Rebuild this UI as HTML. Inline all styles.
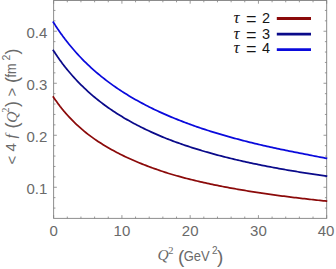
<!DOCTYPE html>
<html><head><meta charset="utf-8"><title>plot</title>
<style>html,body{margin:0;padding:0;background:#fff;}svg{display:block;font-family:"Liberation Sans",sans-serif;}</style>
</head><body>
<svg width="336" height="269" viewBox="0 0 336 269">
<rect width="336" height="269" fill="#fff"/>
<rect x="53.65" y="0.5" width="273.05" height="217.85" fill="none" stroke="#808080" stroke-width="0.9"/>
<path d="M53.65,218.35v-3.2M53.65,0.5v3.2M67.30,218.35v-1.8M67.30,0.5v1.8M80.95,218.35v-1.8M80.95,0.5v1.8M94.61,218.35v-1.8M94.61,0.5v1.8M108.26,218.35v-1.8M108.26,0.5v1.8M121.91,218.35v-3.2M121.91,0.5v3.2M135.56,218.35v-1.8M135.56,0.5v1.8M149.21,218.35v-1.8M149.21,0.5v1.8M162.87,218.35v-1.8M162.87,0.5v1.8M176.52,218.35v-1.8M176.52,0.5v1.8M190.17,218.35v-3.2M190.17,0.5v3.2M203.82,218.35v-1.8M203.82,0.5v1.8M217.47,218.35v-1.8M217.47,0.5v1.8M231.13,218.35v-1.8M231.13,0.5v1.8M244.78,218.35v-1.8M244.78,0.5v1.8M258.43,218.35v-3.2M258.43,0.5v3.2M272.08,218.35v-1.8M272.08,0.5v1.8M285.73,218.35v-1.8M285.73,0.5v1.8M299.39,218.35v-1.8M299.39,0.5v1.8M313.04,218.35v-1.8M313.04,0.5v1.8M326.69,218.35v-3.2M326.69,0.5v3.2M53.65,208.07h1.8M326.7,208.07h-1.8M53.65,197.67h1.8M326.7,197.67h-1.8M53.65,187.27h3.2M326.7,187.27h-3.2M53.65,176.87h1.8M326.7,176.87h-1.8M53.65,166.47h1.8M326.7,166.47h-1.8M53.65,156.06h1.8M326.7,156.06h-1.8M53.65,145.66h1.8M326.7,145.66h-1.8M53.65,135.26h3.2M326.7,135.26h-3.2M53.65,124.86h1.8M326.7,124.86h-1.8M53.65,114.46h1.8M326.7,114.46h-1.8M53.65,104.05h1.8M326.7,104.05h-1.8M53.65,93.65h1.8M326.7,93.65h-1.8M53.65,83.25h3.2M326.7,83.25h-3.2M53.65,72.85h1.8M326.7,72.85h-1.8M53.65,62.45h1.8M326.7,62.45h-1.8M53.65,52.04h1.8M326.7,52.04h-1.8M53.65,41.64h1.8M326.7,41.64h-1.8M53.65,31.24h3.2M326.7,31.24h-3.2M53.65,20.84h1.8M326.7,20.84h-1.8M53.65,10.44h1.8M326.7,10.44h-1.8" stroke="#808080" stroke-width="0.8" fill="none"/>
<g fill="none" stroke-width="1.75" stroke-linecap="butt" stroke-linejoin="round">
<path d="M52.90,96.28 L53.65,97.40 L53.99,97.91 L54.33,98.41 L54.67,98.90 L55.02,99.40 L55.36,99.89 L55.70,100.38 L56.04,100.86 L56.38,101.34 L56.72,101.82 L57.06,102.29 L57.40,102.76 L57.75,103.23 L58.09,103.69 L58.43,104.15 L58.77,104.61 L59.11,105.07 L59.45,105.52 L59.79,105.97 L60.13,106.42 L60.48,106.86 L60.82,107.30 L61.16,107.74 L61.50,108.17 L61.84,108.60 L62.18,109.03 L62.52,109.45 L62.87,109.87 L63.21,110.29 L63.55,110.70 L63.89,111.10 L64.23,111.50 L64.57,111.90 L64.91,112.30 L65.25,112.70 L65.60,113.09 L65.94,113.48 L66.28,113.86 L66.62,114.25 L66.96,114.63 L67.30,115.01 L69.01,116.87 L70.72,118.68 L72.42,120.43 L74.13,122.13 L75.83,123.78 L77.54,125.39 L79.25,126.94 L80.95,128.46 L82.66,129.93 L84.37,131.36 L86.07,132.76 L87.78,134.11 L89.49,135.41 L91.19,136.67 L92.90,137.90 L94.61,139.10 L96.31,140.26 L98.02,141.40 L99.73,142.52 L101.43,143.61 L103.14,144.67 L104.84,145.71 L106.55,146.72 L108.26,147.72 L109.96,148.69 L111.67,149.64 L113.38,150.58 L115.08,151.51 L116.79,152.41 L118.50,153.30 L120.20,154.17 L121.91,155.03 L123.62,155.86 L125.32,156.68 L127.03,157.48 L128.74,158.27 L130.44,159.04 L132.15,159.79 L133.86,160.54 L135.56,161.26 L137.27,161.98 L138.97,162.69 L140.68,163.38 L142.39,164.07 L144.09,164.75 L145.80,165.42 L147.51,166.07 L149.21,166.72 L150.92,167.35 L152.63,167.98 L154.33,168.59 L156.04,169.19 L157.75,169.79 L159.45,170.38 L161.16,170.97 L162.87,171.54 L164.57,172.11 L166.28,172.67 L167.99,173.21 L169.69,173.74 L171.40,174.25 L173.10,174.75 L174.81,175.24 L176.52,175.73 L178.22,176.20 L179.93,176.67 L181.64,177.13 L183.34,177.59 L185.05,178.04 L186.76,178.48 L188.46,178.92 L190.17,179.35 L191.88,179.77 L193.58,180.19 L195.29,180.60 L197.00,181.01 L198.70,181.41 L200.41,181.80 L202.12,182.19 L203.82,182.58 L205.53,182.96 L207.23,183.33 L208.94,183.70 L210.65,184.06 L212.35,184.42 L214.06,184.78 L215.77,185.13 L217.47,185.48 L219.18,185.82 L220.89,186.16 L222.59,186.49 L224.30,186.82 L226.01,187.14 L227.71,187.46 L229.42,187.78 L231.13,188.09 L232.83,188.40 L234.54,188.71 L236.25,189.01 L237.95,189.31 L239.66,189.61 L241.37,189.90 L243.07,190.19 L244.78,190.47 L246.48,190.75 L248.19,191.03 L249.90,191.31 L251.60,191.58 L253.31,191.85 L255.02,192.11 L256.72,192.38 L258.43,192.64 L260.14,192.90 L261.84,193.15 L263.55,193.40 L265.26,193.65 L266.96,193.90 L268.67,194.14 L270.38,194.38 L272.08,194.62 L273.79,194.86 L275.50,195.09 L277.20,195.33 L278.91,195.55 L280.61,195.78 L282.32,196.01 L284.03,196.23 L285.73,196.45 L287.44,196.67 L289.15,196.88 L290.85,197.10 L292.56,197.31 L294.27,197.52 L295.97,197.72 L297.68,197.93 L299.39,198.13 L301.09,198.34 L302.80,198.53 L304.51,198.73 L306.21,198.93 L307.92,199.12 L309.62,199.31 L311.33,199.50 L313.04,199.69 L314.74,199.88 L316.45,200.07 L318.16,200.25 L319.86,200.43 L321.57,200.61 L323.28,200.79 L324.98,200.97 L326.69,201.14 L327.24,201.20" stroke="#8b0a0a"/>
<path d="M52.90,49.75 L53.65,50.92 L53.99,51.44 L54.33,51.96 L54.67,52.48 L55.02,53.00 L55.36,53.51 L55.70,54.02 L56.04,54.53 L56.38,55.03 L56.72,55.54 L57.06,56.03 L57.40,56.53 L57.75,57.02 L58.09,57.51 L58.43,58.00 L58.77,58.49 L59.11,58.97 L59.45,59.46 L59.79,59.94 L60.13,60.41 L60.48,60.89 L60.82,61.36 L61.16,61.83 L61.50,62.30 L61.84,62.76 L62.18,63.22 L62.52,63.68 L62.87,64.13 L63.21,64.58 L63.55,65.03 L63.89,65.47 L64.23,65.91 L64.57,66.34 L64.91,66.78 L65.25,67.21 L65.60,67.64 L65.94,68.07 L66.28,68.49 L66.62,68.91 L66.96,69.33 L67.30,69.75 L69.01,71.80 L70.72,73.80 L72.42,75.75 L74.13,77.65 L75.83,79.49 L77.54,81.30 L79.25,83.06 L80.95,84.78 L82.66,86.46 L84.37,88.11 L86.07,89.71 L87.78,91.28 L89.49,92.82 L91.19,94.32 L92.90,95.79 L94.61,97.23 L96.31,98.64 L98.02,100.01 L99.73,101.36 L101.43,102.68 L103.14,103.98 L104.84,105.24 L106.55,106.48 L108.26,107.70 L109.96,108.89 L111.67,110.06 L113.38,111.20 L115.08,112.32 L116.79,113.43 L118.50,114.51 L120.20,115.57 L121.91,116.61 L123.62,117.63 L125.32,118.63 L127.03,119.62 L128.74,120.59 L130.44,121.54 L132.15,122.48 L133.86,123.40 L135.56,124.30 L137.27,125.19 L138.97,126.07 L140.68,126.93 L142.39,127.78 L144.09,128.62 L145.80,129.45 L147.51,130.26 L149.21,131.07 L150.92,131.86 L152.63,132.64 L154.33,133.41 L156.04,134.16 L157.75,134.91 L159.45,135.64 L161.16,136.36 L162.87,137.07 L164.57,137.77 L166.28,138.45 L167.99,139.13 L169.69,139.79 L171.40,140.43 L173.10,141.07 L174.81,141.70 L176.52,142.33 L178.22,142.94 L179.93,143.54 L181.64,144.14 L183.34,144.73 L185.05,145.31 L186.76,145.88 L188.46,146.45 L190.17,147.01 L191.88,147.56 L193.58,148.10 L195.29,148.64 L197.00,149.17 L198.70,149.69 L200.41,150.21 L202.12,150.72 L203.82,151.22 L205.53,151.72 L207.23,152.21 L208.94,152.69 L210.65,153.17 L212.35,153.65 L214.06,154.11 L215.77,154.58 L217.47,155.03 L219.18,155.49 L220.89,155.93 L222.59,156.37 L224.30,156.81 L226.01,157.24 L227.71,157.67 L229.42,158.09 L231.13,158.50 L232.83,158.92 L234.54,159.32 L236.25,159.73 L237.95,160.12 L239.66,160.52 L241.37,160.91 L243.07,161.29 L244.78,161.67 L246.48,162.05 L248.19,162.42 L249.90,162.79 L251.60,163.16 L253.31,163.52 L255.02,163.88 L256.72,164.23 L258.43,164.58 L260.14,164.93 L261.84,165.27 L263.55,165.61 L265.26,165.95 L266.96,166.28 L268.67,166.61 L270.38,166.94 L272.08,167.26 L273.79,167.58 L275.50,167.90 L277.20,168.21 L278.91,168.53 L280.61,168.83 L282.32,169.14 L284.03,169.44 L285.73,169.74 L287.44,170.04 L289.15,170.33 L290.85,170.62 L292.56,170.91 L294.27,171.19 L295.97,171.48 L297.68,171.76 L299.39,172.04 L301.09,172.31 L302.80,172.58 L304.51,172.86 L306.21,173.12 L307.92,173.39 L309.62,173.65 L311.33,173.91 L313.04,174.17 L314.74,174.43 L316.45,174.68 L318.16,174.93 L319.86,175.18 L321.57,175.43 L323.28,175.68 L324.98,175.92 L326.69,176.16 L327.24,176.24" stroke="#0a0a8a"/>
<path d="M52.90,21.54 L53.65,22.73 L53.99,23.27 L54.33,23.81 L54.67,24.34 L55.02,24.87 L55.36,25.39 L55.70,25.92 L56.04,26.44 L56.38,26.95 L56.72,27.47 L57.06,27.98 L57.40,28.49 L57.75,28.99 L58.09,29.49 L58.43,29.99 L58.77,30.49 L59.11,30.99 L59.45,31.48 L59.79,31.97 L60.13,32.45 L60.48,32.94 L60.82,33.42 L61.16,33.90 L61.50,34.38 L61.84,34.85 L62.18,35.32 L62.52,35.79 L62.87,36.25 L63.21,36.72 L63.55,37.18 L63.89,37.63 L64.23,38.09 L64.57,38.54 L64.91,38.99 L65.25,39.44 L65.60,39.88 L65.94,40.32 L66.28,40.76 L66.62,41.20 L66.96,41.64 L67.30,42.07 L69.01,44.20 L70.72,46.28 L72.42,48.31 L74.13,50.29 L75.83,52.23 L77.54,54.12 L79.25,55.97 L80.95,57.77 L82.66,59.54 L84.37,61.26 L86.07,62.95 L87.78,64.60 L89.49,66.21 L91.19,67.79 L92.90,69.33 L94.61,70.84 L96.31,72.32 L98.02,73.77 L99.73,75.19 L101.43,76.58 L103.14,77.94 L104.84,79.28 L106.55,80.59 L108.26,81.88 L109.96,83.14 L111.67,84.38 L113.38,85.60 L115.08,86.79 L116.79,87.97 L118.50,89.12 L120.20,90.25 L121.91,91.37 L123.62,92.46 L125.32,93.54 L127.03,94.60 L128.74,95.64 L130.44,96.66 L132.15,97.67 L133.86,98.66 L135.56,99.64 L137.27,100.60 L138.97,101.54 L140.68,102.47 L142.39,103.39 L144.09,104.29 L145.80,105.18 L147.51,106.06 L149.21,106.92 L150.92,107.77 L152.63,108.61 L154.33,109.43 L156.04,110.24 L157.75,111.05 L159.45,111.84 L161.16,112.62 L162.87,113.39 L164.57,114.14 L166.28,114.89 L167.99,115.63 L169.69,116.36 L171.40,117.08 L173.10,117.78 L174.81,118.48 L176.52,119.17 L178.22,119.86 L179.93,120.53 L181.64,121.19 L183.34,121.85 L185.05,122.50 L186.76,123.14 L188.46,123.77 L190.17,124.39 L191.88,125.01 L193.58,125.62 L195.29,126.22 L197.00,126.81 L198.70,127.40 L200.41,127.98 L202.12,128.55 L203.82,129.12 L205.53,129.68 L207.23,130.23 L208.94,130.78 L210.65,131.32 L212.35,131.86 L214.06,132.39 L215.77,132.91 L217.47,133.43 L219.18,133.94 L220.89,134.45 L222.59,134.95 L224.30,135.44 L226.01,135.93 L227.71,136.42 L229.42,136.90 L231.13,137.37 L232.83,137.84 L234.54,138.31 L236.25,138.77 L237.95,139.22 L239.66,139.67 L241.37,140.12 L243.07,140.56 L244.78,141.00 L246.48,141.43 L248.19,141.86 L249.90,142.29 L251.60,142.71 L253.31,143.12 L255.02,143.54 L256.72,143.94 L258.43,144.35 L260.14,144.75 L261.84,145.15 L263.55,145.54 L265.26,145.93 L266.96,146.31 L268.67,146.70 L270.38,147.08 L272.08,147.45 L273.79,147.82 L275.50,148.19 L277.20,148.56 L278.91,148.92 L280.61,149.28 L282.32,149.63 L284.03,149.98 L285.73,150.33 L287.44,150.68 L289.15,151.02 L290.85,151.36 L292.56,151.70 L294.27,152.04 L295.97,152.37 L297.68,152.70 L299.39,153.02 L301.09,153.35 L302.80,153.68 L304.51,154.03 L306.21,154.38 L307.92,154.73 L309.62,155.07 L311.33,155.42 L313.04,155.75 L314.74,156.09 L316.45,156.42 L318.16,156.75 L319.86,157.08 L321.57,157.40 L323.28,157.73 L324.98,158.05 L326.69,158.37 L327.24,158.47" stroke="#0a0adc"/>
</g>
<g fill="#6a6a6a" font-family="'Liberation Sans',sans-serif" font-size="15">
<text x="53.65" y="236.1" text-anchor="middle">0</text>
<text x="121.91" y="236.1" text-anchor="middle">10</text>
<text x="190.17" y="236.1" text-anchor="middle">20</text>
<text x="258.43" y="236.1" text-anchor="middle">30</text>
<text x="326" y="236.1" text-anchor="middle">40</text>
<text x="47.3" y="193.72" text-anchor="end">0.1</text>
<text x="47.3" y="141.71" text-anchor="end">0.2</text>
<text x="47.3" y="89.7" text-anchor="end">0.3</text>
<text x="47.3" y="37.69" text-anchor="end">0.4</text>
<text x="157.5" y="260.2" font-family="'Liberation Serif',serif" font-style="italic" font-size="15.5">Q</text>
<text x="168.2" y="253.5" font-family="'Liberation Serif',serif" font-size="10.5">2</text>
<text x="178" y="262.5" font-size="19">(</text>
<text x="183.7" y="261" textLength="26" lengthAdjust="spacingAndGlyphs">GeV</text>
<text x="212" y="253.7" font-size="10">2</text>
<text x="217" y="262.5" font-size="19">)</text>
</g>
<g transform="translate(16.4,165) rotate(-90)" fill="#6a6a6a" font-family="'Liberation Sans',sans-serif" font-size="15">
<text x="0.4" y="0.8">&lt;</text>
<text x="13.5" y="0">4</text>
<text x="26.5" y="0" font-family="'Liberation Serif',serif" font-style="italic" font-size="15.5">f</text>
<text x="36.5" y="1.5" font-size="18">(</text>
<text x="42.3" y="0.2" font-family="'Liberation Serif',serif" font-style="italic" font-size="15.5">Q</text>
<text x="52.3" y="-7" font-family="'Liberation Serif',serif" font-size="10.5">2</text>
<text x="58" y="1.5" font-size="18">)</text>
<text x="68.4" y="0.8">&gt;</text>
<text x="82" y="1.5" font-size="18">(</text>
<text x="87.6" y="0" font-size="14.5" textLength="14" lengthAdjust="spacingAndGlyphs">fm</text>
<text x="104.4" y="-6.9" font-size="10.5">2</text>
<text x="110.5" y="1.5" font-size="18">)</text>
</g>
<path d="M276.8,18.55H311" stroke="#8b0a0a" stroke-width="2.9" fill="none"/>
<path d="M276.8,34.1H311" stroke="#0a0a8a" stroke-width="2.9" fill="none"/>
<path d="M276.8,49.6H311" stroke="#0a0adc" stroke-width="2.9" fill="none"/>
<g fill="#161616" font-family="'Liberation Sans',sans-serif" font-size="14.5">
<text x="233.6" y="22.9" font-family="'Liberation Serif',serif" font-style="italic" font-size="17">τ</text>
<text x="246" y="25" font-size="18">=</text>
<text x="262" y="22.9">2</text>
<text x="233.6" y="39.35" font-family="'Liberation Serif',serif" font-style="italic" font-size="17">τ</text>
<text x="246" y="41.3" font-size="18">=</text>
<text x="262" y="39.35">3</text>
<text x="233.6" y="53.2" font-family="'Liberation Serif',serif" font-style="italic" font-size="17">τ</text>
<text x="246" y="55.3" font-size="18">=</text>
<text x="262" y="53.2">4</text>
</g>
</svg>
</body></html>
